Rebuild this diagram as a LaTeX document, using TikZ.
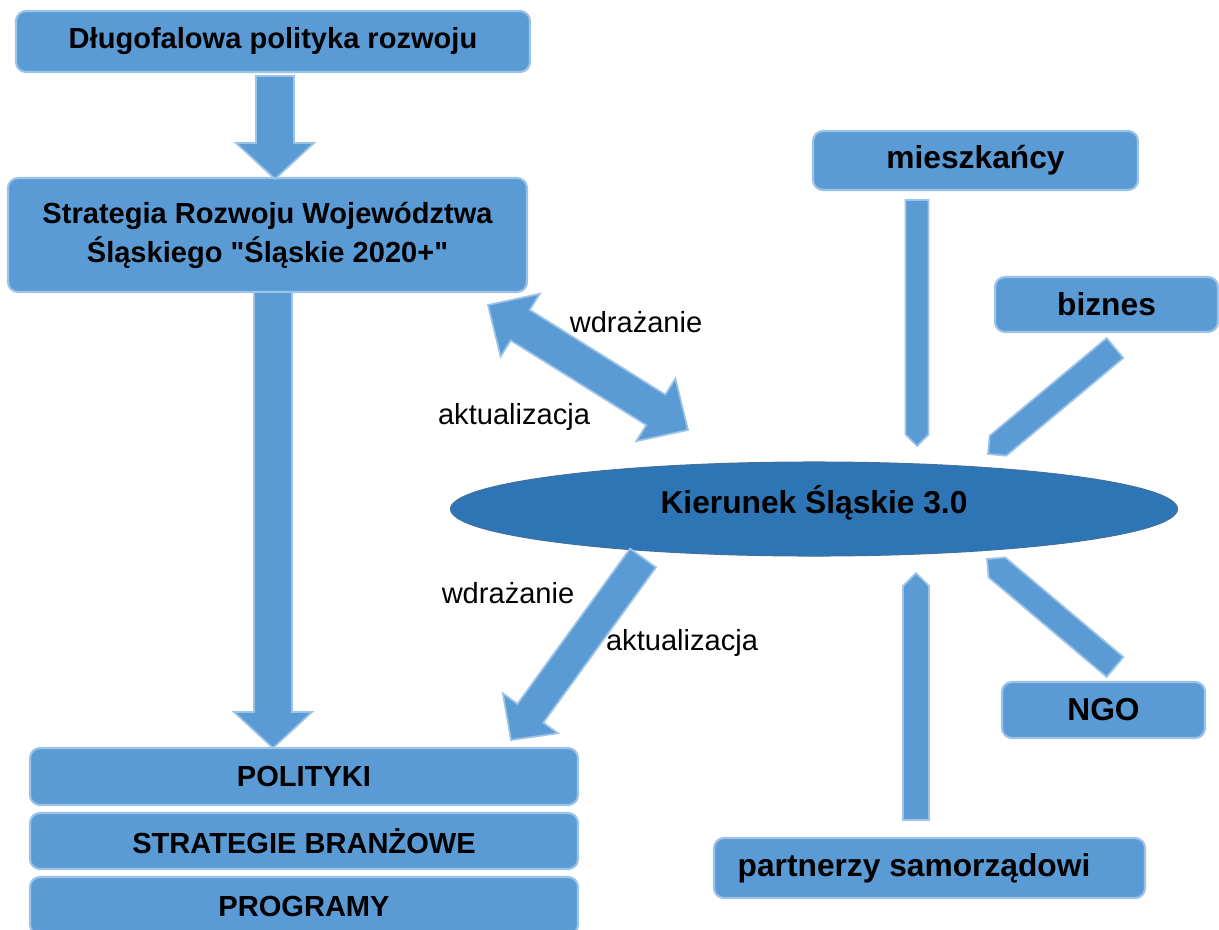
\documentclass[tikz,border=0pt]{standalone}
\usepackage{fontspec}
\setmainfont{Liberation Sans}[Ligatures=TeXOff]
\usetikzlibrary{calc,shapes.geometric}
\definecolor{boxfill}{HTML}{5B9BD5}
\definecolor{boxline}{HTML}{9DC3E6}
\definecolor{ellfill}{HTML}{2E75B6}
\definecolor{ellline}{HTML}{41719C}
\newcommand\blkarrow[5]{%
  \coordinate (bkC) at ($(#2)!#5!(#1)$);
  \draw[arr] ($(#1)!#3!90:(#2)$) -- ($(bkC)!#3!90:(#2)$) -- ($(bkC)!#4!90:(#2)$) -- (#2) -- ($(bkC)!#4!-90:(#2)$) -- ($(bkC)!#3!-90:(#2)$) -- ($(#1)!#3!-90:(#2)$) -- cycle;
}
\newcommand\dblarrow[5]{%
  \coordinate (bkA) at ($(#1)!#5!(#2)$);
  \coordinate (bkB) at ($(#2)!#5!(#1)$);
  \draw[arr] (#1) -- ($(bkA)!#4!90:(#2)$) -- ($(bkA)!#3!90:(#2)$) -- ($(bkB)!#3!-90:(#1)$) -- ($(bkB)!#4!-90:(#1)$) -- (#2) -- ($(bkB)!#4!90:(#1)$) -- ($(bkB)!#3!90:(#1)$) -- ($(bkA)!#3!-90:(#2)$) -- ($(bkA)!#4!-90:(#2)$) -- cycle;
}
\newcommand\pentarrow[3]{%
  \coordinate (bkC) at ($(#2)!#3!(#1)$);
  \draw[arr] ($(#1)!#3!90:(#2)$) -- ($(bkC)!#3!90:(#2)$) -- (#2) -- ($(bkC)!#3!-90:(#2)$) -- ($(#1)!#3!-90:(#2)$) -- cycle;
}
\begin{document}
\begin{tikzpicture}[x=0.75pt,y=-0.75pt,
  sz/.style 2 args={minimum width=#1*0.75pt, minimum height=#2*0.75pt},
  box/.style={draw=boxline, fill=boxfill, line width=1.6pt, rounded corners=7.5pt, inner sep=0pt, align=center,
    font=\bfseries\fontsize{21.8}{29.25}\selectfont},
  bigbox/.style={box, font=\bfseries\fontsize{23.8}{29}\selectfont},
  ell/.style={ellipse, draw=ellline, fill=ellfill, line width=0.8pt, inner sep=0pt},
  elltext/.style={inner sep=0pt, font=\bfseries\fontsize{23.8}{29}\selectfont},
  lbl/.style={inner sep=0pt, font=\fontsize{21.8}{26}\selectfont},
  arr/.style={fill=boxfill, draw=boxline, line width=1.3pt, line join=miter}]
\useasboundingbox (0,0) rectangle (1219,929);
\clip (0,0) rectangle (1219,929);
\fill[white] (0,0) rectangle (1219,929);

% boxes
\node[box, sz={514}{61}] (dlugo) at (273,41.5) {Długofalowa polityka rozwoju};
\node[box, sz={519}{114}] (strat) at (267.5,235) {Strategia Rozwoju Województwa\\Śląskiego "Śląskie 2020+"};
\node[box, sz={548}{57}] (polit) at (304,776.5) {POLITYKI};
\node[box, sz={548}{56}] (branz) at (304,841) {STRATEGIE BRANŻOWE};
\node[box, sz={548}{58}] (progr) at (304,906) {PROGRAMY};
\node[bigbox, sz={325}{59}] (miesz) at (975.5,160.5) {mieszkańcy};
\node[bigbox, sz={223}{55}] (biznes) at (1106.5,304.5) {biznes};
\node[bigbox, sz={203}{56}] (ngo) at (1103.5,710) {NGO};
\node[bigbox, sz={431}{60}] (partn) at (929.5,868) {partnerzy samorządowi\hspace*{23.25pt}};
\node[ell, sz={727}{94}] (kier) at (814,509) {};
\node[elltext] (kiert) at (814,503) {Kierunek Śląskie 3.0};

% arrow end points
\coordinate (a1s) at (275,76);
\coordinate (a1e) at (275,179);
\coordinate (a2s) at (273,292);
\coordinate (a2e) at (273,748);
\coordinate (d1) at (488,305);
\coordinate (d2) at (688,430);
\coordinate (a3s) at (643,558);
\coordinate (a3e) at (511,740);
\coordinate (m1) at (917,200);
\coordinate (m2) at (917,446);
\coordinate (b1) at (1115,348);
\coordinate (b2) at (988,454);
\coordinate (n1) at (1115,667);
\coordinate (n2) at (987,559);
\coordinate (p1) at (916,820);
\coordinate (p2) at (916,573);

\blkarrow{a1s}{a1e}{14.25pt}{29.25pt}{27pt}
\blkarrow{a2s}{a2e}{14.25pt}{29.25pt}{27pt}
\dblarrow{d1}{d2}{13.5pt}{27.75pt}{28.5pt}
\blkarrow{a3s}{a3e}{12pt}{25.5pt}{24.75pt}
\pentarrow{m1}{m2}{8.6pt}
\pentarrow{b1}{b2}{9.75pt}
\pentarrow{n1}{n2}{9.75pt}
\pentarrow{p1}{p2}{9.75pt}

% labels
\node[lbl] (w1) at (636,322) {wdrażanie};
\node[lbl] (k1) at (514,417) {aktualizacja};
\node[lbl] (w2) at (508,593) {wdrażanie};
\node[lbl] (k2) at (682,643) {aktualizacja};
\end{tikzpicture}
\end{document}
